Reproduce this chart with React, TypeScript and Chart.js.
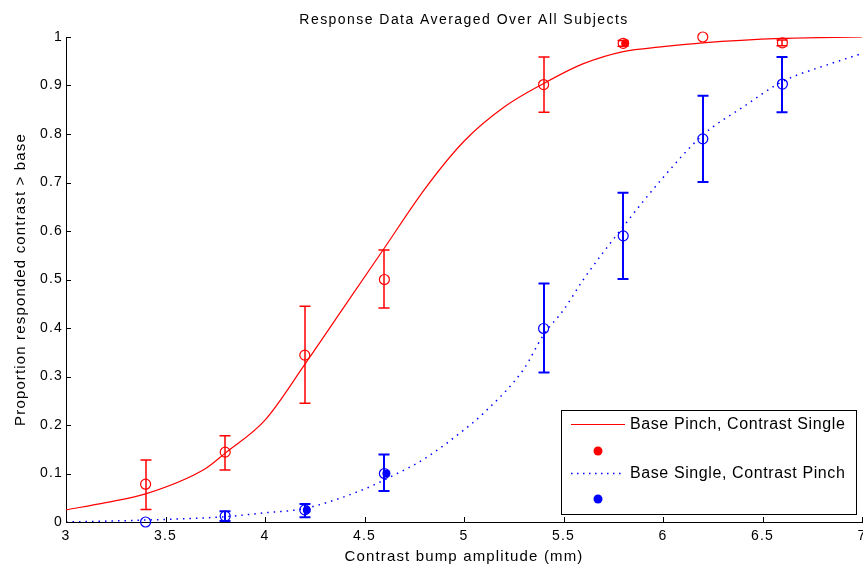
import React, { useEffect, useRef } from 'react';
import { Chart, registerables } from 'chart.js';

Chart.register(...registerables);

const TITLE = 'Response Data Averaged Over All Subjects';
const X_LABEL = 'Contrast bump amplitude (mm)';
const Y_LABEL = 'Proportion responded contrast > base';
const LEGEND_LABELS = ['Base Pinch, Contrast Single', 'Base Single, Contrast Pinch'];

const xTicks = [3, 3.5, 4, 4.5, 5, 5.5, 6, 6.5, 7];
const yTicks = [0, 0.1, 0.2, 0.3, 0.4, 0.5, 0.6, 0.7, 0.8, 0.9, 1];

// Stimulus levels (contrast bump amplitude, mm)
const stimX = [3.4, 3.8, 4.2, 4.6, 5.4, 5.8, 6.2, 6.6];

// Base Pinch, Contrast Single (red)
const pinchMean = [0.078, 0.144, 0.344, 0.5, 0.902, 0.987, 1.0, 0.988];
const pinchLow = [0.026, 0.107, 0.245, 0.441, 0.845, 0.981, 1.0, 0.982];
const pinchHigh = [0.128, 0.178, 0.445, 0.561, 0.959, 0.993, 1.0, 0.994];

// Base Single, Contrast Pinch (blue)
const singleMean = [0.0, 0.012, 0.025, 0.1, 0.399, 0.59, 0.79, 0.903];
const singleLow = [0.0, 0.002, 0.01, 0.064, 0.308, 0.501, 0.701, 0.845];
const singleHigh = [0.0, 0.022, 0.037, 0.139, 0.492, 0.679, 0.879, 0.959];

// Fitted curves
const pinchFitX = [3.0, 3.2, 3.4, 3.7, 3.8, 4.0, 4.2, 4.4, 4.6, 4.8, 5.0, 5.2, 5.4, 5.6, 5.8, 6.0, 6.2, 6.6, 7.0];
const pinchFitY = [0.025, 0.04, 0.058, 0.11, 0.142, 0.21, 0.325, 0.445, 0.565, 0.685, 0.785, 0.855, 0.904, 0.945, 0.97, 0.98, 0.988, 0.997, 1.0];

const singleFitX = [3.0, 3.4, 3.8, 4.0, 4.2, 4.5, 4.65, 4.8, 5.0, 5.1, 5.3, 5.4, 5.5, 5.6, 5.8, 6.0, 6.2, 6.4, 6.6, 6.85, 7.0];
const singleFitY = [0.0, 0.004, 0.011, 0.019, 0.028, 0.068, 0.097, 0.13, 0.19, 0.225, 0.315, 0.386, 0.437, 0.5, 0.609, 0.71, 0.798, 0.855, 0.908, 0.946, 0.966];

// Filled dot series (partly hidden behind the open markers)
const pinchDotX = [5.81];
const pinchDotY = [0.987];
const singleDotX = [4.21, 4.61];
const singleDotY = [0.025, 0.1];

const RED = 'rgb(255,0,0)';
const BLUE = 'rgb(0,0,255)';
const FONT = '"Liberation Sans", Arial, Helvetica, sans-serif';

const pts = (xs: number[], ys: number[]) => xs.map((x, i) => ({ x, y: ys[i] }));

const errorBarPlugin = {
  id: 'errorBars',
  afterDatasetsDraw(chart: any) {
    const { ctx, scales } = chart;
    const xs = scales.x;
    const ys = scales.y;
    const series = [
      { lo: pinchLow, hi: pinchHigh, color: RED, width: 1.5 },
      { lo: singleLow, hi: singleHigh, color: BLUE, width: 2 },
    ];
    ctx.save();
    for (const s of series) {
      ctx.strokeStyle = s.color;
      ctx.lineWidth = s.width;
      stimX.forEach((xv, i) => {
        if (s.hi[i] - s.lo[i] <= 0) return;
        const px = Math.round(xs.getPixelForValue(xv));
        const y1 = ys.getPixelForValue(s.lo[i]);
        const y2 = ys.getPixelForValue(s.hi[i]);
        ctx.beginPath();
        ctx.moveTo(px, y1);
        ctx.lineTo(px, y2);
        ctx.moveTo(px - 5.5, y1);
        ctx.lineTo(px + 5.5, y1);
        ctx.moveTo(px - 5.5, y2);
        ctx.lineTo(px + 5.5, y2);
        ctx.stroke();
      });
    }
    ctx.restore();
  },
};

const decorPlugin = {
  id: 'decor',
  beforeDraw(chart: any) {
    chart.ctx.letterSpacing = '1.2px';
  },
  afterDraw(chart: any) {
    const { ctx, scales, chartArea } = chart;
    const xs = scales.x;
    const ys = scales.y;
    ctx.save();
    // inward tick marks
    ctx.strokeStyle = '#000';
    ctx.lineWidth = 1;
    ctx.beginPath();
    for (const v of yTicks) {
      const y = Math.round(ys.getPixelForValue(v)) + 0.5;
      ctx.moveTo(chartArea.left, y);
      ctx.lineTo(chartArea.left + 5, y);
    }
    for (const v of xTicks) {
      const x = Math.round(xs.getPixelForValue(v)) + 0.5;
      ctx.moveTo(x, chartArea.bottom);
      ctx.lineTo(x, chartArea.bottom - 5);
    }
    ctx.stroke();

    ctx.fillStyle = '#000';
    // title
    ctx.letterSpacing = '1.45px';
    ctx.font = `14px ${FONT}`;
    ctx.textAlign = 'center';
    ctx.textBaseline = 'alphabetic';
    ctx.fillText(TITLE, (chartArea.left + chartArea.right) / 2, 24);
    // x label
    ctx.letterSpacing = '1.15px';
    ctx.font = `15px ${FONT}`;
    ctx.fillText(X_LABEL, (chartArea.left + chartArea.right) / 2, 561);
    // y label
    ctx.save();
    ctx.translate(25, (chartArea.top + chartArea.bottom) / 2);
    ctx.rotate(-Math.PI / 2);
    ctx.textBaseline = 'alphabetic';
    ctx.fillText(Y_LABEL, 0, 0);
    ctx.restore();

    // legend
    const lx = 561.5, ly = 410.5, lw = 295, lh = 104;
    ctx.letterSpacing = '0.6px';
    ctx.fillStyle = '#fff';
    ctx.fillRect(lx, ly, lw, lh);
    ctx.strokeStyle = '#000';
    ctx.lineWidth = 1;
    ctx.strokeRect(lx, ly, lw, lh);
    const rows = [
      { label: LEGEND_LABELS[0], color: RED, dash: [] as number[], lineY: 424, dotY: 451 },
      { label: LEGEND_LABELS[1], color: BLUE, dash: [1.5, 4.5], lineY: 473, dotY: 499 },
    ];
    for (const r of rows) {
      ctx.strokeStyle = r.color;
      ctx.lineWidth = r.dash.length ? 1.5 : 1;
      ctx.setLineDash(r.dash);
      ctx.beginPath();
      ctx.moveTo(571, r.lineY + 0.5);
      ctx.lineTo(625, r.lineY + 0.5);
      ctx.stroke();
      ctx.setLineDash([]);
      ctx.fillStyle = r.color;
      ctx.beginPath();
      ctx.arc(598, r.dotY, 4.5, 0, Math.PI * 2);
      ctx.fill();
      ctx.fillStyle = '#000';
      ctx.font = `16px ${FONT}`;
      ctx.textAlign = 'left';
      ctx.textBaseline = 'middle';
      ctx.fillText(r.label, 630, r.lineY + 1);
    }
    ctx.restore();
    ctx.letterSpacing = '0px';
  },
};

export default function App() {
  const ref = useRef<HTMLCanvasElement | null>(null);

  useEffect(() => {
    if (!ref.current) return;
    const chart = new Chart(ref.current, {
      type: 'scatter',
      data: {
        datasets: [
          {
            type: 'line',
            label: LEGEND_LABELS[0],
            data: pts(pinchFitX, pinchFitY),
            borderColor: RED,
            borderWidth: 1.2,
            pointRadius: 0,
            cubicInterpolationMode: 'monotone',
            fill: false,
          } as any,
          {
            type: 'line',
            label: LEGEND_LABELS[1],
            data: pts(singleFitX, singleFitY),
            borderColor: BLUE,
            borderWidth: 1.5,
            borderDash: [1.5, 5],
            pointRadius: 0,
            cubicInterpolationMode: 'monotone',
            fill: false,
          } as any,
          {
            label: 'pinch dots',
            data: pts(pinchDotX, pinchDotY),
            pointRadius: 4,
            backgroundColor: RED,
            borderWidth: 0,
            clip: false,
          } as any,
          {
            label: 'single dots',
            data: pts(singleDotX, singleDotY),
            pointRadius: 4,
            backgroundColor: BLUE,
            borderWidth: 0,
            clip: false,
          } as any,
          {
            label: 'pinch mean',
            data: pts(stimX, pinchMean),
            pointStyle: 'circle',
            pointRadius: 5,
            borderColor: RED,
            borderWidth: 1.2,
            backgroundColor: 'rgba(0,0,0,0)',
            clip: false,
          } as any,
          {
            label: 'single mean',
            data: pts(stimX, singleMean),
            pointStyle: 'circle',
            pointRadius: 5,
            borderColor: BLUE,
            borderWidth: 1.2,
            backgroundColor: 'rgba(0,0,0,0)',
            clip: false,
          } as any,
        ],
      },
      options: {
        animation: false,
        responsive: false,
        devicePixelRatio: 1,
        events: [],
        layout: { padding: { top: 37, right: 18, bottom: 0, left: 0 } },
        plugins: {
          legend: { display: false },
          tooltip: { enabled: false },
          title: { display: false },
        },
        scales: {
          x: {
            type: 'linear',
            min: 3,
            max: 7,
            afterBuildTicks: (s: any) => {
              s.ticks = xTicks.map((v) => ({ value: v }));
            },
            afterFit: (s: any) => {
              s.height = 49;
            },
            grid: { display: true, drawOnChartArea: false, drawTicks: false },
            border: { display: true, color: '#000', width: 1 },
            ticks: {
              color: '#000',
              padding: 6,
              maxRotation: 0,
              autoSkip: false,
              font: { family: FONT, size: 14 },
              callback: (v: any) => String(v),
            },
          },
          y: {
            type: 'linear',
            min: 0,
            max: 1,
            afterBuildTicks: (s: any) => {
              s.ticks = yTicks.map((v) => ({ value: v }));
            },
            afterFit: (s: any) => {
              s.width = 66;
            },
            grid: { display: true, drawOnChartArea: false, drawTicks: false },
            border: { display: true, color: '#000', width: 1 },
            ticks: {
              color: '#000',
              padding: 3,
              autoSkip: false,
              font: { family: FONT, size: 14 },
              callback: (v: any) => String(v),
            },
          },
        },
      } as any,
      plugins: [errorBarPlugin, decorPlugin],
    });
    return () => chart.destroy();
  }, []);

  return (
    <div
      style={{
        position: 'fixed',
        left: 0,
        top: 0,
        width: 863,
        height: 571,
        overflow: 'hidden',
        background: '#fff',
      }}
    >
      <canvas ref={ref} width={880} height={571} style={{ display: 'block', width: 880, height: 571 }} />
    </div>
  );
}
